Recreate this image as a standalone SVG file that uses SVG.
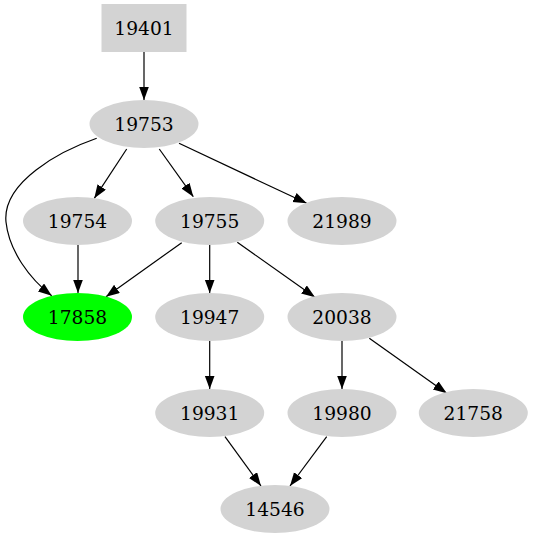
<svg xmlns="http://www.w3.org/2000/svg" width="533" height="539" viewBox="0 0 533 539">
<defs>
<marker id="ah" markerUnits="userSpaceOnUse" markerWidth="15" markerHeight="11" refX="13.5" refY="5" orient="auto">
<path d="M0,0 L13.5,5 L0,10 z" fill="#000"/>
</marker>
<style>
.n{fill:#d3d3d3;stroke:none}
.g{fill:#00ff00;stroke:none}
.t{font-family:"DejaVu Serif",serif;font-size:18.67px;text-anchor:middle;fill:#000}
.e{fill:none;stroke:#000;stroke-width:1.2;marker-end:url(#ah)}
</style>
</defs>
<rect width="533" height="539" fill="#fff"/>
<g id="edges">
<path class="e" d="M144,52 L144,100"/>
<path class="e" d="M126.7,149 L94.3,198.3"/>
<path class="e" d="M159.3,149 L193.3,196.7"/>
<path class="e" d="M179,143.3 L306.7,203.3"/>
<path class="e" d="M96.7,138.3 C60,151 2,182 6,222 C9,251 30,279 51.7,295.7"/>
<path class="e" d="M78,245 L78,293"/>
<path class="e" d="M181.7,242.7 L106,296.7"/>
<path class="e" d="M209.7,245 L209.7,293"/>
<path class="e" d="M237.3,242.3 L315,297.3"/>
<path class="e" d="M209.7,341 L209.7,389"/>
<path class="e" d="M342,341 L342,389"/>
<path class="e" d="M369.3,338.3 L446.7,393.3"/>
<path class="e" d="M225,436.7 L261,486"/>
<path class="e" d="M326.7,436.7 L290,486"/>
</g>
<g id="n19401"><rect class="n" x="101.5" y="4" width="85" height="48"/><text class="t" x="144" y="34.5">19401</text></g>
<g id="n19753"><ellipse class="n" cx="144" cy="124" rx="54.5" ry="24"/><text class="t" x="144" y="130.5">19753</text></g>
<g id="n19754"><ellipse class="n" cx="77.5" cy="221" rx="54.5" ry="24"/><text class="t" x="77.5" y="227.5">19754</text></g>
<g id="n19755"><ellipse class="n" cx="209.7" cy="221" rx="54.5" ry="24"/><text class="t" x="209.7" y="227.5">19755</text></g>
<g id="n21989"><ellipse class="n" cx="342" cy="221" rx="54.5" ry="24"/><text class="t" x="342" y="227.5">21989</text></g>
<g id="n17858"><ellipse class="g" cx="77.5" cy="317" rx="54.5" ry="24"/><text class="t" x="77.5" y="323.5">17858</text></g>
<g id="n19947"><ellipse class="n" cx="209.7" cy="317" rx="54.5" ry="24"/><text class="t" x="209.7" y="323.5">19947</text></g>
<g id="n20038"><ellipse class="n" cx="342" cy="317" rx="54.5" ry="24"/><text class="t" x="342" y="323.5">20038</text></g>
<g id="n19931"><ellipse class="n" cx="209.7" cy="413" rx="54.5" ry="24"/><text class="t" x="209.7" y="419.5">19931</text></g>
<g id="n19980"><ellipse class="n" cx="342" cy="413" rx="54.5" ry="24"/><text class="t" x="342" y="419.5">19980</text></g>
<g id="n21758"><ellipse class="n" cx="473.3" cy="413" rx="54.5" ry="24"/><text class="t" x="473.3" y="419.5">21758</text></g>
<g id="n14546"><ellipse class="n" cx="275" cy="509" rx="54.5" ry="24"/><text class="t" x="275" y="515.5">14546</text></g>
</svg>
